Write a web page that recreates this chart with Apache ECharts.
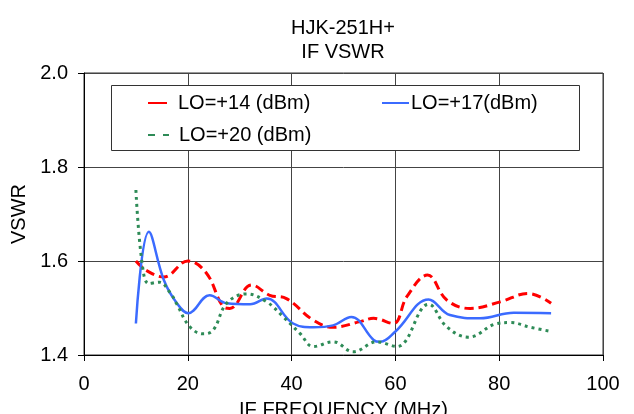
<!DOCTYPE html>
<html><head><meta charset="utf-8">
<script src="https://cdn.jsdelivr.net/npm/echarts@6/dist/echarts.min.js"></script>
<style>html,body{margin:0;padding:0;background:#fff}#c{width:634px;height:414px}</style>
</head><body><div id="c"></div>
<script>
const titleLines = ['HJK-251H+', 'IF VSWR'];
const seriesNames = ['LO=+14 (dBm)', 'LO=+17(dBm)', 'LO=+20 (dBm)'];
const xTicks = [0, 20, 40, 60, 80, 100];
const yTicks = [1.4, 1.6, 1.8, 2.0];

const freqLO14 = [10, 12, 15.4, 20, 23.6, 26.8, 28.1, 32.3, 35.8, 39, 44.2, 48, 53.2, 55.8, 59.6, 62.2, 66.2, 69.9, 74.4, 80.2, 85.6, 90];
const vswrLO14 = [1.600, 1.580, 1.566, 1.600, 1.574, 1.503, 1.499, 1.549, 1.527, 1.520, 1.474, 1.459, 1.471, 1.478, 1.467, 1.524, 1.570, 1.517, 1.499, 1.513, 1.531, 1.510];

const freqLO17 = [10, 12.5, 15.4, 17.9, 20.1, 24.2, 27.5, 32, 35.2, 40.3, 44.2, 48, 51.5, 55.8, 57, 60, 66.4, 70.5, 76.3, 82.8, 90];
const vswrLO17 = [1.467, 1.662, 1.559, 1.510, 1.489, 1.527, 1.510, 1.508, 1.520, 1.467, 1.459, 1.463, 1.481, 1.432, 1.428, 1.450, 1.518, 1.485, 1.478, 1.490, 1.489];

const freqLO20 = [10, 11.2, 12.5, 14.5, 16.7, 17.8, 20.4, 23, 24.9, 27.5, 31.3, 35.2, 38.4, 41.6, 44.2, 48, 51.9, 56.4, 60.3, 66.4, 69.9, 74.1, 79.6, 82.1, 86, 90];
const vswrLO20 = [1.751, 1.595, 1.552, 1.555, 1.531, 1.510, 1.460, 1.445, 1.453, 1.510, 1.530, 1.513, 1.481, 1.446, 1.418, 1.428, 1.407, 1.428, 1.418, 1.508, 1.460, 1.438, 1.467, 1.469, 1.459, 1.450];

const zip = (xs, ys) => xs.map((x, i) => [x, ys[i]]);
const FONT = 'Liberation Sans, Arial, sans-serif';
const legendText = { fontFamily: FONT, fontSize: 20, color: '#000' };

const chart = echarts.init(document.getElementById('c'));
chart.setOption({
  animation: false,
  backgroundColor: '#fff',
  title: {
    text: titleLines.join('\n'),
    left: 343, top: 16, textAlign: 'center', padding: 0,
    textStyle: { fontFamily: FONT, fontSize: 20, fontWeight: 'normal', color: '#000', lineHeight: 24 }
  },
  grid: { left: 84, right: 31, top: 73, bottom: 59, show: true, borderColor: '#333', borderWidth: 1,
    containLabel: false, outerBoundsMode: 'none' },
  graphic: [{
    type: 'rect', left: 111, top: 85, shape: { width: 468, height: 65 },
    style: { fill: '#fff', stroke: '#333', lineWidth: 1 }, z: 10
  }],
  legend: [
    { data: [seriesNames[0]], left: 147, top: 93, padding: 0, itemWidth: 19, itemHeight: 14, itemGap: 0, z: 20,
      itemStyle: { opacity: 0 }, lineStyle: { type: 'solid' },
      textStyle: Object.assign({ padding: [0, 0, 0, 6] }, legendText) },
    { data: [seriesNames[1]], left: 381, top: 93, padding: 0, itemWidth: 27, itemHeight: 14, itemGap: 0, z: 20,
      itemStyle: { opacity: 0 }, textStyle: Object.assign({ padding: [0, 0, 0, -3] }, legendText) },
    { data: [seriesNames[2]], left: 147, top: 125, padding: 0, itemWidth: 21, itemHeight: 14, itemGap: 0, z: 20,
      itemStyle: { opacity: 0 }, lineStyle: { type: [7, 8] },
      textStyle: Object.assign({ padding: [0, 0, 0, 5] }, legendText) }
  ],
  xAxis: {
    type: 'value', min: 0, max: 100, interval: 20,
    name: 'IF FREQUENCY (MHz)', nameLocation: 'middle', nameGap: 45,
    nameTextStyle: { fontFamily: FONT, fontSize: 20, color: '#000' },
    axisLine: { show: true, lineStyle: { color: '#000', width: 1 } },
    axisTick: { show: true, length: 6, lineStyle: { color: '#000' } },
    axisLabel: { fontFamily: FONT, fontSize: 20, color: '#000', margin: 19 },
    splitLine: { show: true, lineStyle: { color: '#444', width: 1 } }
  },
  yAxis: {
    type: 'value', min: 1.4, max: 2.0, interval: 0.2,
    name: 'VSWR', nameLocation: 'middle', nameGap: 49, nameRotate: 90,
    nameTextStyle: { fontFamily: FONT, fontSize: 20, color: '#000' },
    axisLine: { show: true, lineStyle: { color: '#000', width: 1 } },
    axisTick: { show: true, length: 6, lineStyle: { color: '#000' } },
    axisLabel: { fontFamily: FONT, fontSize: 20, color: '#000', margin: 16,
      formatter: v => v.toFixed(1) },
    splitLine: { show: true, lineStyle: { color: '#444', width: 1 } }
  },
  series: [
    { name: seriesNames[0], type: 'line', data: zip(freqLO14, vswrLO14), smooth: 0.4, symbol: 'none',
      color: '#ff0000', lineStyle: { color: '#ff0000', width: 3, type: [9, 5] } },
    { name: seriesNames[1], type: 'line', data: zip(freqLO17, vswrLO17), smooth: 0.4, symbol: 'none',
      color: '#3b6bff', lineStyle: { color: '#3b6bff', width: 2.5 } },
    { name: seriesNames[2], type: 'line', data: zip(freqLO20, vswrLO20), smooth: 0.4, symbol: 'none',
      color: '#2e8b57', lineStyle: { color: '#2e8b57', width: 3, type: [3, 4] } }
  ]
});
</script></body></html>
